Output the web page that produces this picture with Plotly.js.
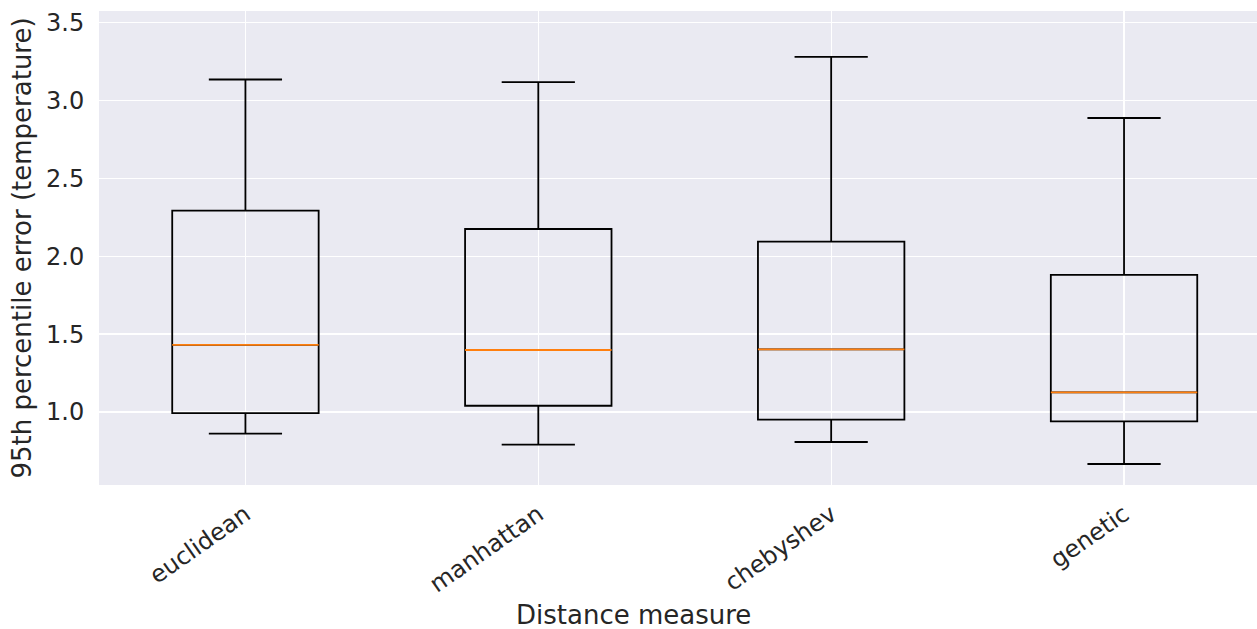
<!DOCTYPE html>
<html>
<head>
<meta charset="utf-8">
<script src="https://cdn.plot.ly/plotly-3.0.1.min.js"></script>
<style>html,body{margin:0;padding:0;background:#fff;}#chart{width:1257px;height:629px;}</style>
</head>
<body>
<div id="chart"></div>
<script>
const categories = ["euclidean", "manhattan", "chebyshev", "genetic"];
const lowerWhisker = [0.861, 0.790, 0.807, 0.666];
const q1Values = [0.992, 1.040, 0.951, 0.940];
const medianValues = [1.431, 1.398, 1.402, 1.126];
const q3Values = [2.293, 2.175, 2.094, 1.880];
const upperWhisker = [3.135, 3.118, 3.280, 2.888];
const yTickValues = [1.0, 1.5, 2.0, 2.5, 3.0, 3.5];
const xAxisTitle = "Distance measure";
const yAxisTitle = "95th percentile error (temperature)";

const positions = categories.map((c, i) => i);
const halfWidth = 0.25;

const medX = [], medY = [];
positions.forEach((p, i) => {
  medX.push(p - halfWidth, p + halfWidth, null);
  medY.push(medianValues[i], medianValues[i], null);
});

const textColor = "#262626";
const font = "DejaVu Sans, sans-serif";

const data = [
  {
    type: "box",
    x: positions,
    q1: q1Values,
    median: medianValues,
    q3: q3Values,
    lowerfence: lowerWhisker,
    upperfence: upperWhisker,
    width: 0.5,
    whiskerwidth: 0.5,
    boxpoints: false,
    fillcolor: "rgba(0,0,0,0)",
    line: { color: "#000000", width: 1.8 },
    showlegend: false,
    hoverinfo: "skip"
  },
  {
    type: "scatter",
    mode: "lines",
    x: medX,
    y: medY,
    line: { color: "#ff7f0e", width: 1.8 },
    showlegend: false,
    hoverinfo: "skip"
  }
];

const layout = {
  width: 1257,
  height: 629,
  margin: { l: 99, r: 0, t: 11, b: 144 },
  paper_bgcolor: "#ffffff",
  plot_bgcolor: "#EAEAF2",
  font: { family: font, color: textColor, size: 24 },
  xaxis: {
    range: [-0.5, 3.454],
    tickvals: positions,
    ticktext: categories,
    tickangle: -35,
    ticks: "outside",
    ticklen: 5,
    tickcolor: "rgba(0,0,0,0)",
    showgrid: true,
    gridcolor: "#ffffff",
    gridwidth: 1.3,
    zeroline: false,
    showline: false,
    tickfont: { family: font, size: 24, color: textColor }
  },
  yaxis: {
    range: [0.531, 3.575],
    tickvals: yTickValues,
    tickformat: ".1f",
    ticks: "outside",
    ticklen: 9,
    tickcolor: "rgba(0,0,0,0)",
    showgrid: true,
    gridcolor: "#ffffff",
    gridwidth: 1.3,
    zeroline: false,
    showline: false,
    tickfont: { family: font, size: 24, color: textColor },
    title: { text: yAxisTitle, font: { family: font, size: 26, color: textColor }, standoff: 6 }
  },
  annotations: [
    {
      text: xAxisTitle,
      xref: "paper", yref: "paper",
      x: 0.462, y: -0.275,
      xanchor: "center", yanchor: "middle",
      showarrow: false,
      font: { family: font, size: 26, color: textColor }
    }
  ]
};

Plotly.newPlot("chart", data, layout, { displayModeBar: false, staticPlot: true });
</script>
</body>
</html>
